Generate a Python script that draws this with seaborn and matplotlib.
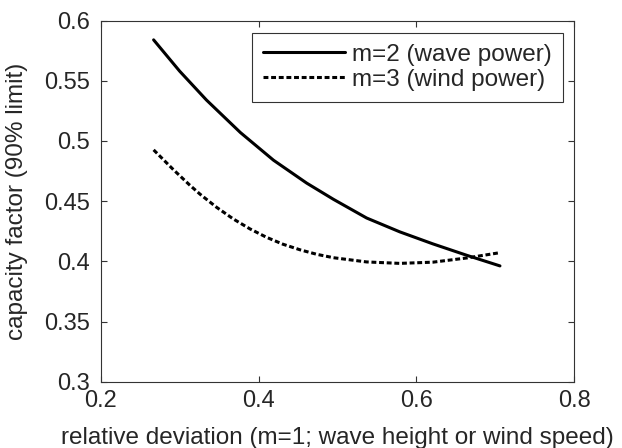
import pandas as pd
import seaborn as sns
import matplotlib.pyplot as plt

# values
x_wave = [0.267, 0.30, 0.334, 0.377, 0.419, 0.461, 0.495, 0.537, 0.579, 0.621, 0.664, 0.706]
y_wave = [0.584, 0.558, 0.534, 0.507, 0.484, 0.465, 0.4515, 0.436, 0.4245, 0.4145, 0.405, 0.3962]

x_wind = [0.267, 0.292, 0.313, 0.326, 0.347, 0.368, 0.389, 0.410, 0.431, 0.453, 0.474,
          0.495, 0.537, 0.579, 0.621, 0.664, 0.706]
y_wind = [0.4926, 0.4762, 0.4632, 0.4557, 0.4448, 0.4352, 0.4270, 0.4200, 0.4142, 0.4095, 0.4058,
          0.4030, 0.3995, 0.3983, 0.3993, 0.4028, 0.4072]

label_wave = 'm=2 (wave power)'
label_wind = 'm=3 (wind power)'

df_wave = pd.DataFrame({'x': x_wave, 'y': y_wave})
df_wind = pd.DataFrame({'x': x_wind, 'y': y_wind})

sns.set_style('white')
plt.rcParams['font.family'] = ['Liberation Sans', 'DejaVu Sans']

fig = plt.figure(figsize=(6.22, 4.48), dpi=100)
ax = fig.add_axes([0.162, 0.148, 0.761, 0.806])

sns.lineplot(data=df_wave, x='x', y='y', color='black', linewidth=2.2, label=label_wave, ax=ax)
sns.lineplot(data=df_wind, x='x', y='y', color='black', linewidth=2.2, linestyle=(0, (1.6, 0.9)),
             label=label_wind, ax=ax)

ax.set_xlim(0.2, 0.8)
ax.set_ylim(0.3, 0.6)
ax.set_xticks([0.2, 0.4, 0.6, 0.8])
ax.set_xticklabels(['0.2', '0.4', '0.6', '0.8'])
ax.set_yticks([0.3, 0.35, 0.4, 0.45, 0.5, 0.55, 0.6])
ax.set_yticklabels(['0.3', '0.35', '0.4', '0.45', '0.5', '0.55', '0.6'])
ax.tick_params(direction='in', length=4, width=0.8, top=True, right=True, bottom=True, left=True,
               labelsize=17, color='#333333')
ax.tick_params(axis='x', pad=6)
ax.tick_params(axis='y', pad=7.5)
for s in ax.spines.values():
    s.set_color('#333333')
    s.set_linewidth(0.8)

ax.set_xlabel('relative deviation (m=1; wave height or wind speed)', fontsize=17.5, labelpad=11)
ax.set_ylabel('capacity factor (90% limit)', fontsize=17.5, labelpad=12)

leg = ax.legend(loc='upper right', fontsize=17.5, frameon=True, fancybox=False, handlelength=3.35,
                borderpad=0.45, labelspacing=0.12, handletextpad=0.3, borderaxespad=0,
                bbox_to_anchor=(0.976, 0.966))
leg.get_frame().set_edgecolor('black')
leg.get_frame().set_linewidth(0.8)

plt.savefig('out.png', dpi=100)
